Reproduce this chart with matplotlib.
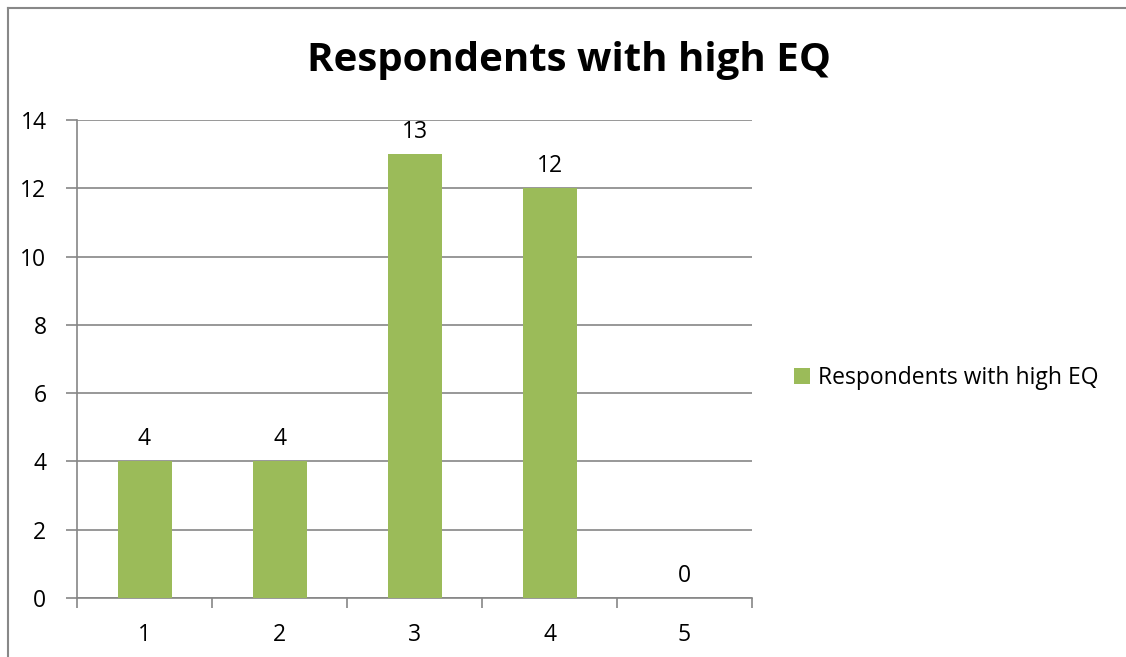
import matplotlib.pyplot as plt
from matplotlib.patches import Patch
from matplotlib.lines import Line2D

categories = ["1", "2", "3", "4", "5"]
values = [4, 4, 13, 12, 0]
series_name = "Respondents with high EQ"
y_ticks = [0, 2, 4, 6, 8, 10, 12, 14]

green = "#9BBB59"
grid_gray = "#868686"
label_size = 16.5

plt.rcParams["font.family"] = ["Open Sans", "DejaVu Sans"]

fig = plt.figure(figsize=(11.26, 6.57), dpi=100)
W, H = 1126, 657
ax = fig.add_axes([77 / W, 1 - 598 / H, (752 - 77) / W, (598 - 120) / H])

x = list(range(len(categories)))
bars = ax.bar(x, values, width=0.4, color=green, zorder=3)
for xi, v in zip(x, values):
    ax.text(xi, v + 0.3, str(v), ha="center", va="bottom", fontsize=label_size)

ax.set_xlim(-0.5, len(categories) - 0.5)
ax.set_ylim(0, 14)
ax.set_yticks(y_ticks)
ax.set_yticklabels([str(t) for t in y_ticks], fontsize=label_size)
ax.yaxis.grid(True, color=grid_gray, linewidth=1.2, zorder=0)

# category labels centred, tick marks at the category boundaries
ax.set_xticks(x)
ax.set_xticklabels(categories, fontsize=label_size)
ax.tick_params(axis="x", length=0, pad=18)
ax.set_xticks([i - 0.5 for i in range(len(categories) + 1)], minor=True)
ax.tick_params(axis="x", which="minor", length=7, width=1.2, color=grid_gray)
ax.tick_params(axis="y", length=8, width=1.2, color=grid_gray, pad=14)

for side in ["top", "right"]:
    ax.spines[side].set_visible(False)
for side in ["left", "bottom"]:
    ax.spines[side].set_color(grid_gray)
    ax.spines[side].set_linewidth(1.2)

fig.text(569 / W, 1 - 60 / H, series_name, ha="center", va="center",
         fontsize=29, fontweight="bold")

fig.legend(handles=[Patch(facecolor=green, label=series_name)],
           loc="center left", bbox_to_anchor=(785 / W, 1 - 378 / H),
           frameon=False, fontsize=label_size, handlelength=0.7,
           handleheight=0.7, handletextpad=0.35, borderaxespad=0)

# chart frame edges along the top and left
fig.add_artist(Line2D([8 / W, 1], [1 - 8 / H, 1 - 8 / H], color="#888888",
                      linewidth=1.5, transform=fig.transFigure))
fig.add_artist(Line2D([8 / W, 8 / W], [0, 1 - 8 / H], color="#888888",
                      linewidth=1.5, transform=fig.transFigure))

fig.savefig("out.png", dpi=100)
